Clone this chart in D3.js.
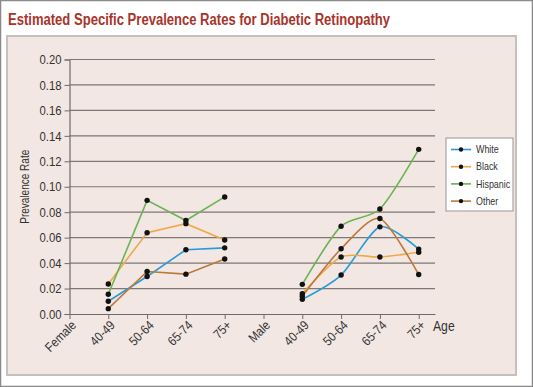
<!DOCTYPE html>
<html>
<head>
<meta charset="utf-8">
<script src="https://cdn.jsdelivr.net/npm/d3@7"></script>
<style>
  body { margin: 0; background: #fff; }
  svg text { font-family: "Liberation Sans", Arial, sans-serif; }
</style>
</head>
<body>
<div id="chart"></div>
<script>
// x categories: position index -> label
const tickLabels = ["Female", "40-49", "50-64", "65-74", "75+", "Male", "40-49", "50-64", "65-74", "75+"];
const series = ["White", "Black", "Hispanic", "Other"];
const colors = ["#2b9bd8", "#f0a94a", "#6cb354", "#b97a3c"];

// female values at 40-49, 50-64, 65-74, 75+
const femaleWhite    = [0.010, 0.0295, 0.0505, 0.052];
const femaleBlack    = [0.0236, 0.0639, 0.0710, 0.0581];
const femaleHispanic = [0.0155, 0.0893, 0.0735, 0.092];
const femaleOther    = [0.0042, 0.0334, 0.0313, 0.0432];

// male values at 40-49, 50-64, 65-74, 75+
const maleWhite    = [0.0115, 0.0306, 0.0685, 0.051];
const maleBlack    = [0.0160, 0.0448, 0.0448, 0.0485];
const maleHispanic = [0.0233, 0.069, 0.0825, 0.1294];
const maleOther    = [0.0140, 0.0513, 0.075, 0.031];

const yTicks = [0, 0.02, 0.04, 0.06, 0.08, 0.10, 0.12, 0.14, 0.16, 0.18, 0.20];

const width = 533, height = 387;
const narrow = 0.87; // squeeze text to look like a condensed face
const svg = d3.select("#chart").append("svg")
  .attr("width", width).attr("height", height);

// outer frame
svg.append("rect").attr("x", 0.5).attr("y", 0.5)
  .attr("width", width - 1).attr("height", height - 1)
  .attr("fill", "#fff").attr("stroke", "#8a8a8a").attr("stroke-width", 1.5);

// title
svg.append("text").attr("x", 8).attr("y", 25)
  .attr("fill", "#a8342b").attr("font-size", 16).attr("font-weight", "bold")
  .attr("textLength", 382).attr("lengthAdjust", "spacingAndGlyphs")
  .text("Estimated Specific Prevalence Rates for Diabetic Retinopathy");

// panel
svg.append("rect").attr("x", 7).attr("y", 36)
  .attr("width", 509).attr("height", 339)
  .attr("fill", "#f3e7e3").attr("stroke", "#c4c0be").attr("stroke-width", 2);

// scales
const x = d3.scaleLinear().domain([0, 9.42]).range([69.5, 435]);
const y = d3.scaleLinear().domain([0, 0.20]).range([314, 59.5]);

// gridlines
svg.append("g").selectAll("line")
  .data(yTicks.slice(1))
  .join("line")
  .attr("x1", x(0)).attr("x2", x(9.42))
  .attr("y1", d => y(d)).attr("y2", d => y(d))
  .attr("stroke", "#7d7775").attr("stroke-width", 1.2);

// y axis
const yAxis = svg.append("g")
  .attr("transform", `translate(${x(0)},0)`)
  .call(d3.axisLeft(y).tickValues(yTicks).tickFormat(d3.format(".2f")).tickSize(5));
yAxis.select(".domain").attr("stroke", "#6f6a68").attr("stroke-width", 1.2);
yAxis.selectAll(".tick line").attr("stroke", "#6f6a68");
yAxis.selectAll("text").attr("font-size", 13).attr("fill", "#333")
  .attr("x", 0).attr("transform", `translate(-8,0) scale(${narrow},1)`);

// x axis
const xAxis = svg.append("g")
  .attr("transform", `translate(0,${y(0)})`)
  .call(d3.axisBottom(x).tickValues(d3.range(10)).tickFormat(i => tickLabels[i]).tickSize(5).tickSizeOuter(0));
xAxis.select(".domain").attr("stroke", "#6f6a68").attr("stroke-width", 1.2);
xAxis.selectAll(".tick line").attr("stroke", "#6f6a68");
xAxis.selectAll("text")
  .attr("font-size", 13).attr("fill", "#333")
  .attr("text-anchor", "end")
  .attr("dy", null).attr("y", 0)
  .attr("transform", `translate(7,12) rotate(-45) scale(${narrow},1)`);

// axis titles
svg.append("text")
  .attr("transform", `translate(29,${(y(0) + y(0.2)) / 2}) rotate(-90)`)
  .attr("text-anchor", "middle").attr("font-size", 13.5).attr("fill", "#333")
  .attr("textLength", 74).attr("lengthAdjust", "spacingAndGlyphs")
  .text("Prevalence Rate");
svg.append("text")
  .attr("transform", `translate(433,331) scale(${narrow},1)`)
  .attr("font-size", 14).attr("fill", "#333").text("Age");

// lines
const female = [femaleWhite, femaleBlack, femaleHispanic, femaleOther];
const male = [maleWhite, maleBlack, maleHispanic, maleOther];
const femaleX = [1, 2, 3, 4], maleX = [6, 7, 8, 9];

const straight = d3.line().x(d => x(d[0])).y(d => y(d[1]));
const smooth = d3.line().x(d => x(d[0])).y(d => y(d[1])).curve(d3.curveCardinal.tension(0.25));

const lines = svg.append("g").attr("fill", "none").attr("stroke-width", 1.6);
series.forEach((s, i) => {
  lines.append("path").datum(femaleX.map((v, j) => [v, female[i][j]]))
    .attr("d", straight).attr("stroke", colors[i]);
  lines.append("path").datum(maleX.map((v, j) => [v, male[i][j]]))
    .attr("d", smooth).attr("stroke", colors[i]);
});

// dots
const pts = [];
series.forEach((s, i) => {
  femaleX.forEach((v, j) => pts.push([v, female[i][j]]));
  maleX.forEach((v, j) => pts.push([v, male[i][j]]));
});
svg.append("g").selectAll("circle").data(pts).join("circle")
  .attr("cx", d => x(d[0])).attr("cy", d => y(d[1]))
  .attr("r", 2.7).attr("fill", "#111");

// legend
const legend = svg.append("g");
legend.append("rect").attr("x", 446).attr("y", 138)
  .attr("width", 67).attr("height", 73)
  .attr("fill", "#fff").attr("stroke", "#9a9593").attr("stroke-width", 1);
series.forEach((s, i) => {
  const ly = 149.5 + i * 17.2;
  legend.append("line").attr("x1", 451).attr("x2", 471).attr("y1", ly).attr("y2", ly)
    .attr("stroke", colors[i]).attr("stroke-width", 1.6);
  legend.append("circle").attr("cx", 461).attr("cy", ly).attr("r", 2.2).attr("fill", "#111");
  legend.append("text")
    .attr("transform", `translate(476,${ly + 3.6}) scale(0.85,1)`)
    .attr("font-size", 10.5).attr("fill", "#333").text(s);
});
</script>
</body>
</html>
